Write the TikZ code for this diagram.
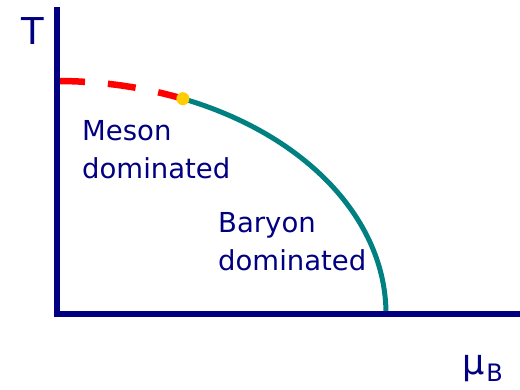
\documentclass[tikz,border=0pt]{standalone}
\usepackage{fontspec}
\setmainfont{DejaVu Sans}
\definecolor{axisblue}{RGB}{0,0,128}
\definecolor{phaseteal}{RGB}{0,128,128}
\definecolor{pointyellow}{RGB}{255,204,0}
\tikzset{
  axisline/.style={draw=axisblue, line width=6pt},
  regiontext/.style={anchor=north west, inner sep=0pt, align=left, text=axisblue, font=\fontsize{27.5}{38}\selectfont},
}
\begin{document}
\begin{tikzpicture}[x=1pt, y=1pt]
    \useasboundingbox (0,0) rectangle (520,389);

    % Origin, top of the curve and critical point
    \coordinate (origin) at (57,75);
    \coordinate (top) at (57,308);
    \coordinate (cp) at (182.9,290.3);

    % Crossover (dashed red) and first order line (teal)
    \draw[red, line width=6.5pt, dash pattern=on 28pt off 23pt] (top) arc[start angle=90, end angle=67.5, x radius=329pt, y radius=233pt];
    \draw[phaseteal, line width=5pt] (cp) arc[start angle=67.5, end angle=0, x radius=329pt, y radius=233pt];

    % Axes
    \coordinate (ytip) at (57,382);
    \coordinate (xtip) at (520,75);
    \draw[axisline] ([yshift=-3pt]origin) -- (ytip);
    \draw[axisline] ([xshift=-3pt]origin) -- (xtip);

    % Critical point
    \node[circle, fill=pointyellow, inner sep=0pt, minimum size=13pt] (cpdot) at (cp) {};

    % Axis labels
    \node[anchor=base west, inner sep=0pt, text=axisblue, font=\fontsize{37}{37}\selectfont] (tlabel) at (21,344) {T};
    \node[anchor=base west, inner sep=0pt, text=axisblue, font=\fontsize{35}{35}\selectfont] (mulabel) at (462,15) {μ\hspace{2pt}\raisebox{-7pt}{\fontsize{24}{24}\selectfont B}};

    % Region labels
    \node[regiontext] (meson) at (82,269) {Meson\\dominated};
    \node[regiontext] (baryon) at (218,177) {Baryon\\dominated};
\end{tikzpicture}
\end{document}
